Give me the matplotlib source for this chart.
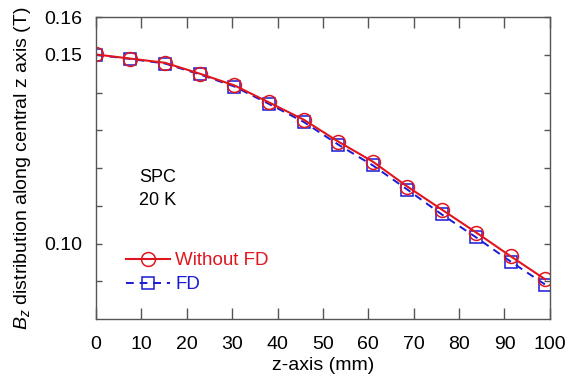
import matplotlib
matplotlib.use("Agg")
import matplotlib.pyplot as plt
from matplotlib.ticker import FixedLocator, FixedFormatter

plt.rcParams['font.family'] = ['Liberation Sans', 'DejaVu Sans']
plt.rcParams['mathtext.fontset'] = 'custom'
plt.rcParams['mathtext.it'] = 'Liberation Sans:italic'
plt.rcParams['mathtext.rm'] = 'Liberation Sans'

z_mm = [0, 7.6, 15.2, 22.9, 30.5, 38.1, 45.8, 53.4, 61.0, 68.6, 76.2, 83.8, 91.4, 99.0]
bz_without_fd = [0.1501, 0.1490, 0.1479, 0.1450, 0.1419, 0.1374, 0.1328, 0.1270,
                 0.1217, 0.1151, 0.1090, 0.1029, 0.0966, 0.0905]
bz_fd = [0.1500, 0.1489, 0.1477, 0.1448, 0.1416, 0.1370, 0.1322, 0.1262,
         0.1207, 0.1143, 0.1077, 0.1016, 0.0952, 0.0891]

y_ticks = [0.09, 0.10, 0.11, 0.12, 0.13, 0.14, 0.15, 0.16]
y_tick_labels = ['', '0.10', '', '', '', '', '0.15', '0.16']
x_ticks = [0, 10, 20, 30, 40, 50, 60, 70, 80, 90, 100]

red = '#e0161e'
blue = '#1a1ad6'

fig = plt.figure(figsize=(5.68, 3.80), dpi=100)
ax = fig.add_axes([0.169, 0.1605, 0.799, 0.7945])

l_fd, = ax.plot(z_mm, bz_fd, color=blue, ls=(0, (4, 3)), lw=1.4, marker='s',
                ms=9, mfc='none', mec=blue, mew=1.1)
l_wo, = ax.plot(z_mm, bz_without_fd, color=red, ls='-', lw=1.5, marker='o',
                ms=10, mfc='none', mec=red, mew=1.1)

ax.set_xlim(0, 100)
ax.set_ylim(0.08, 0.16)
ax.xaxis.set_major_locator(FixedLocator(x_ticks))
ax.yaxis.set_major_locator(FixedLocator(y_ticks))
ax.yaxis.set_major_formatter(FixedFormatter(y_tick_labels))

for s in ax.spines.values():
    s.set_color('#555555')
    s.set_linewidth(1.0)
ax.tick_params(axis='x', direction='in', length=8, width=1, color='#555555',
               top=True, labelsize=14, pad=12)
ax.tick_params(axis='y', direction='in', length=4.5, width=1, color='#555555',
               right=True, labelsize=14, pad=10)

ax.set_xlabel('z-axis (mm)', fontsize=14, labelpad=3)
ax.set_ylabel(r'$B_z$ distribution along central z axis (T)', fontsize=14, labelpad=8)

ax.text(0.095, 0.43, 'SPC\n20 K', transform=ax.transAxes, fontsize=13,
        ha='left', va='center', linespacing=1.5)

leg = ax.legend([l_wo, l_fd], ['Without FD', 'FD'], loc='lower left',
                bbox_to_anchor=(0.03, 0.03), frameon=False, fontsize=13.5,
                handlelength=2.3, handletextpad=0.3, labelspacing=0.35)
for txt, c in zip(leg.get_texts(), [red, blue]):
    txt.set_color(c)

fig.savefig('out.png', dpi=100)
